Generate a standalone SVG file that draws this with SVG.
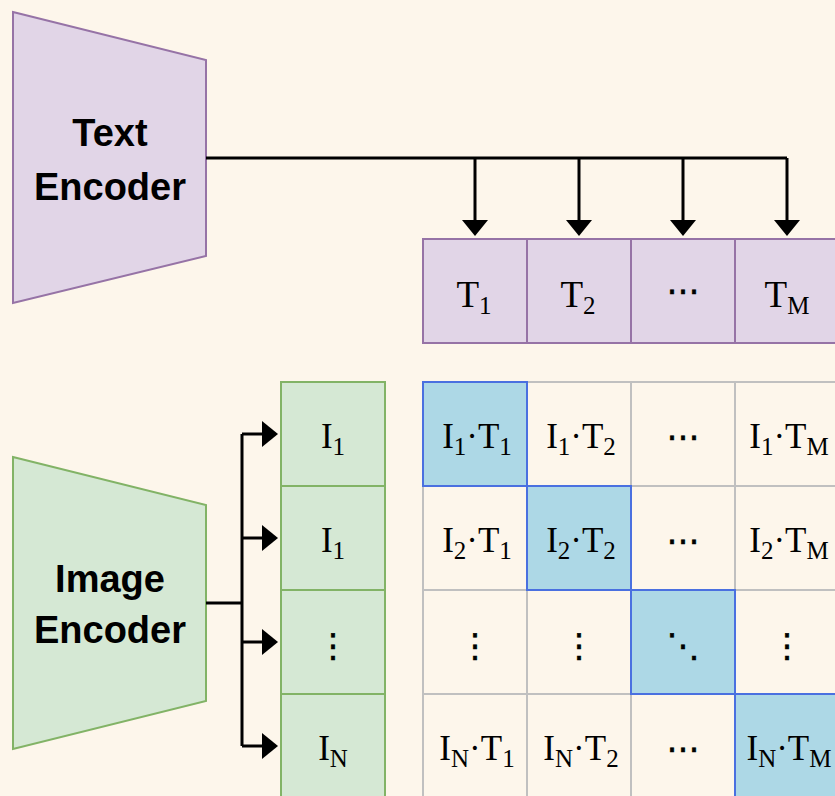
<svg xmlns="http://www.w3.org/2000/svg" width="835" height="796" viewBox="0 0 835 796">
<defs>
<style>
.enc{font-family:"Liberation Sans",Arial,sans-serif;font-weight:bold;font-size:38px;fill:#000;text-anchor:middle}
.m{font-family:"Liberation Serif","Times New Roman",serif;font-size:35px;fill:#000;text-anchor:middle}
.t{font-size:37px}
.s{font-size:25px}
.d{font-family:"DejaVu Sans","DejaVu Serif",sans-serif;font-size:33px;fill:#000;text-anchor:middle;stroke:#000;stroke-width:0.6}
.pur{fill:#e1d5e7;stroke:#9673a6;stroke-width:2}
.grn{fill:#d5e8d4;stroke:#82b366;stroke-width:2}
.gry{fill:none;stroke:#c0c0c0;stroke-width:2}
.blu{fill:#add8e6;stroke:#4a70e0;stroke-width:2}
.ln{fill:none;stroke:#000;stroke-width:3}
</style>
<marker id="ah" viewBox="0 0 16 26" markerWidth="16" markerHeight="26" markerUnits="userSpaceOnUse" refX="6" refY="13" orient="auto">
<path d="M0,0 L16,13 L0,26 z" fill="#000"/>
</marker>
</defs>
<rect width="835" height="796" fill="#fdf6eb"/>

<g id="text-encoder">
<polygon class="pur" points="13,12 206,60 206,256 13,303"/>
<text class="enc" x="110" y="146">Text</text>
<text class="enc" x="110" y="200">Encoder</text>
</g>

<g id="image-encoder">
<polygon class="grn" points="13,457 206,505 206,701 13,749"/>
<text class="enc" x="110" y="592">Image</text>
<text class="enc" x="110" y="643">Encoder</text>
</g>

<g id="connectors">
<path class="ln" d="M206,158 H787"/>
<path class="ln" d="M475,158 V226" marker-end="url(#ah)"/>
<path class="ln" d="M579,158 V226" marker-end="url(#ah)"/>
<path class="ln" d="M683,158 V226" marker-end="url(#ah)"/>
<path class="ln" d="M787,158 V226" marker-end="url(#ah)"/>
<path class="ln" d="M206,603 H242"/>
<path class="ln" d="M242,434 V746"/>
<path class="ln" d="M242,434 H268" marker-end="url(#ah)"/>
<path class="ln" d="M242,538 H268" marker-end="url(#ah)"/>
<path class="ln" d="M242,642 H268" marker-end="url(#ah)"/>
<path class="ln" d="M242,746 H268" marker-end="url(#ah)"/>
</g>

<g id="text-embeddings">
<g id="t1"><rect class="pur" x="423" y="239" width="104" height="104"/><text class="m t" x="474" y="307">T<tspan class="s" dy="7">1</tspan></text></g>
<g id="t2"><rect class="pur" x="527" y="239" width="104" height="104"/><text class="m t" x="578" y="307">T<tspan class="s" dy="7">2</tspan></text></g>
<g id="t-dots"><rect class="pur" x="631" y="239" width="104" height="104"/><text class="d" x="683" y="302">⋯</text></g>
<g id="tm"><rect class="pur" x="735" y="239" width="104" height="104"/><text class="m t" x="787" y="307">T<tspan class="s" dy="7">M</tspan></text></g>
</g>

<g id="image-embeddings">
<g id="i1"><rect class="grn" x="281" y="382" width="104" height="104"/><text class="m" x="333" y="448">I<tspan class="s" dy="7">1</tspan></text></g>
<g id="i2"><rect class="grn" x="281" y="486" width="104" height="104"/><text class="m" x="333" y="552">I<tspan class="s" dy="7">1</tspan></text></g>
<g id="i-dots"><rect class="grn" x="281" y="590" width="104" height="104"/><text class="d" x="333" y="657">⋮</text></g>
<g id="in"><rect class="grn" x="281" y="694" width="104" height="104"/><text class="m" x="333" y="760">I<tspan class="s" dy="7">N</tspan></text></g>
</g>

<g id="similarity-matrix">
<g id="grid">
<rect class="gry" x="423" y="382" width="104" height="104"/>
<rect class="gry" x="527" y="382" width="104" height="104"/>
<rect class="gry" x="631" y="382" width="104" height="104"/>
<rect class="gry" x="735" y="382" width="104" height="104"/>
<rect class="gry" x="423" y="486" width="104" height="104"/>
<rect class="gry" x="527" y="486" width="104" height="104"/>
<rect class="gry" x="631" y="486" width="104" height="104"/>
<rect class="gry" x="735" y="486" width="104" height="104"/>
<rect class="gry" x="423" y="590" width="104" height="104"/>
<rect class="gry" x="527" y="590" width="104" height="104"/>
<rect class="gry" x="631" y="590" width="104" height="104"/>
<rect class="gry" x="735" y="590" width="104" height="104"/>
<rect class="gry" x="423" y="694" width="104" height="104"/>
<rect class="gry" x="527" y="694" width="104" height="104"/>
<rect class="gry" x="631" y="694" width="104" height="104"/>
<rect class="gry" x="735" y="694" width="104" height="104"/>
</g>
<g id="diagonal">
<rect class="blu" x="423" y="382" width="104" height="104"/>
<rect class="blu" x="527" y="486" width="104" height="104"/>
<rect class="blu" x="631" y="590" width="104" height="104"/>
<rect class="blu" x="735" y="694" width="104" height="104"/>
</g>
<g id="cells-text">
<text class="m" x="477" y="448">I<tspan class="s" dy="7">1</tspan><tspan dy="-7">·T</tspan><tspan class="s" dy="7">1</tspan></text>
<text class="m" x="581" y="448">I<tspan class="s" dy="7">1</tspan><tspan dy="-7">·T</tspan><tspan class="s" dy="7">2</tspan></text>
<text class="d" x="683" y="448">⋯</text>
<text class="m" x="789" y="448">I<tspan class="s" dy="7">1</tspan><tspan dy="-7">·T</tspan><tspan class="s" dy="7">M</tspan></text>

<text class="m" x="477" y="552">I<tspan class="s" dy="7">2</tspan><tspan dy="-7">·T</tspan><tspan class="s" dy="7">1</tspan></text>
<text class="m" x="581" y="552">I<tspan class="s" dy="7">2</tspan><tspan dy="-7">·T</tspan><tspan class="s" dy="7">2</tspan></text>
<text class="d" x="683" y="552">⋯</text>
<text class="m" x="789" y="552">I<tspan class="s" dy="7">2</tspan><tspan dy="-7">·T</tspan><tspan class="s" dy="7">M</tspan></text>

<text class="d" x="475" y="657">⋮</text>
<text class="d" x="579" y="657">⋮</text>
<text class="d" x="683" y="657">⋱</text>
<text class="d" x="787" y="657">⋮</text>

<text class="m" x="477" y="760">I<tspan class="s" dy="7">N</tspan><tspan dy="-7">·T</tspan><tspan class="s" dy="7">1</tspan></text>
<text class="m" x="581" y="760">I<tspan class="s" dy="7">N</tspan><tspan dy="-7">·T</tspan><tspan class="s" dy="7">2</tspan></text>
<text class="d" x="683" y="760">⋯</text>
<text class="m" x="789" y="760">I<tspan class="s" dy="7">N</tspan><tspan dy="-7">·T</tspan><tspan class="s" dy="7">M</tspan></text>
</g>
</g>
</svg>
